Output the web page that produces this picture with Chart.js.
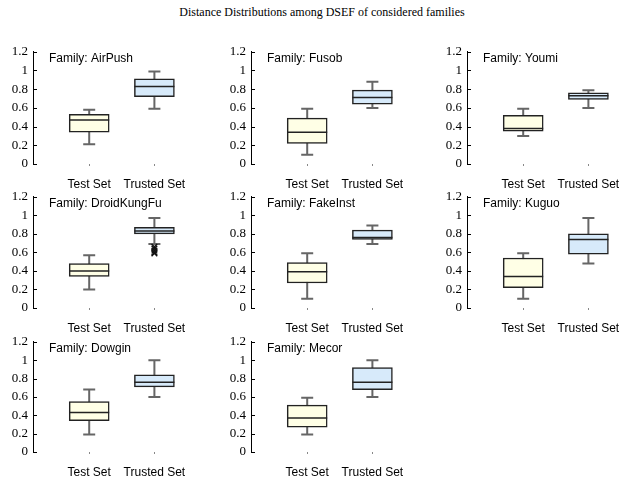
<!DOCTYPE html>
<html>
<head>
<meta charset="utf-8">
<script src="https://cdn.jsdelivr.net/npm/chart.js@4/dist/chart.umd.min.js"></script>
<style>
html,body{margin:0;padding:0;background:#fff;overflow:hidden;width:621px;height:481px;}
#title{position:absolute;left:0;top:4px;width:644px;text-align:center;font-family:"Liberation Serif","Times New Roman",serif;font-size:12px;line-height:16px;color:#000;}
canvas{position:absolute;}
</style>
</head>
<body>
<div id="title">Distance Distributions among DSEF of considered families</div>
<div id="wrap"></div>
<script>
// ---- data ----
const families = ['AirPush','Fusob','Youmi','DroidKungFu','FakeInst','Kuguo','Dowgin','Mecor'];
const categories = ['Test Set','Trusted Set'];
const yTickValues = [0,0.2,0.4,0.6,0.8,1,1.2];

const testLow  = [0.21,0.10,0.30,0.20,0.10,0.10,0.19,0.19];
const testQ1   = [0.34,0.22,0.35,0.34,0.27,0.22,0.34,0.27];
const testMed  = [0.47,0.34,0.38,0.40,0.39,0.34,0.43,0.37];
const testQ3   = [0.53,0.49,0.52,0.48,0.49,0.54,0.55,0.51];
const testHigh = [0.58,0.59,0.59,0.57,0.59,0.59,0.68,0.59];

const trustedLow  = [0.59,0.60,0.60,0.69,0.69,0.48,0.60,0.60];
const trustedQ1   = [0.72,0.64,0.69,0.80,0.74,0.58,0.71,0.68];
const trustedMed  = [0.83,0.71,0.73,0.83,0.76,0.74,0.76,0.76];
const trustedQ3   = [0.91,0.79,0.76,0.87,0.84,0.80,0.84,0.92];
const trustedHigh = [0.99,0.88,0.79,0.97,0.89,0.97,1.00,1.00];

// outliers of Trusted Set (DroidKungFu only)
const trustedOutliers = [[],[],[],[0.66,0.64,0.62,0.60,0.59],[],[],[],[]];

// ---- layout ----
const colAxisX = [33, 251, 467];
const rowTop = [48.5, 194, 339];
const rowBottom = [164, 308, 452];
const PAD_TOP = 10, X_AXIS_H = 30, Y_AXIS_W = 33;

const serif = '"Liberation Serif","Times New Roman",serif';
const sans = '"Liberation Sans",Arial,sans-serif';

const boxExtras = {
  id: 'boxExtras',
  beforeDatasetsDraw(chart, args, opts) {
    const ctx = chart.ctx, xs = chart.scales.x, ys = chart.scales.y;
    ctx.save();
    ctx.strokeStyle = '#666';
    ctx.lineWidth = 2;
    opts.stats.forEach((s, j) => {
      const x = xs.getPixelForValue(j + 1);
      const yl = ys.getPixelForValue(s.low), yh = ys.getPixelForValue(s.high);
      ctx.beginPath();
      ctx.moveTo(x, yl); ctx.lineTo(x, yh);
      ctx.moveTo(x - 6, yl); ctx.lineTo(x + 6, yl);
      ctx.moveTo(x - 6, yh); ctx.lineTo(x + 6, yh);
      ctx.stroke();
    });
    ctx.restore();
  },
  afterDatasetsDraw(chart, args, opts) {
    const ctx = chart.ctx, xs = chart.scales.x, ys = chart.scales.y;
    ctx.save();
    ctx.strokeStyle = '#222';
    ctx.lineWidth = 1.5;
    opts.stats.forEach((s, j) => {
      const x = xs.getPixelForValue(j + 1);
      const ym = ys.getPixelForValue(s.med);
      ctx.beginPath();
      ctx.moveTo(x - 20, ym); ctx.lineTo(x + 20, ym);
      ctx.stroke();
    });
    // inner y tick marks
    ctx.strokeStyle = '#000';
    ctx.lineWidth = 1;
    const left = chart.chartArea.left;
    ys.ticks.forEach(t => {
      const y = Math.round(ys.getPixelForValue(t.value)) + 0.5;
      ctx.beginPath();
      ctx.moveTo(left, y); ctx.lineTo(left + 4, y);
      ctx.stroke();
    });
    // family label
    ctx.fillStyle = '#000';
    ctx.font = '12px ' + sans;
    ctx.textBaseline = 'middle';
    ctx.textAlign = 'left';
    ctx.fillText('Family: ' + opts.family, left + 16, chart.chartArea.top + 7);
    ctx.restore();
  }
};

const wrap = document.getElementById('wrap');
families.forEach((fam, i) => {
  const col = i % 3, row = Math.floor(i / 3);
  const cv = document.createElement('canvas');
  const H = (rowBottom[row] - rowTop[row]) + PAD_TOP + X_AXIS_H;
  const W = 200;
  cv.width = W; cv.height = H;
  cv.style.width = W + 'px'; cv.style.height = H + 'px';
  cv.style.left = (colAxisX[col] - Y_AXIS_W) + 'px';
  cv.style.top = (rowTop[row] - PAD_TOP) + 'px';
  wrap.appendChild(cv);

  const stats = [
    {low: testLow[i], q1: testQ1[i], med: testMed[i], q3: testQ3[i], high: testHigh[i]},
    {low: trustedLow[i], q1: trustedQ1[i], med: trustedMed[i], q3: trustedQ3[i], high: trustedHigh[i]}
  ];

  const datasets = [{
    type: 'bar',
    data: stats.map((s, j) => ({x: j + 1, y: [s.q1, s.q3]})),
    backgroundColor: ['#ffffe6', '#d7eafa'],
    borderColor: '#222',
    borderWidth: 1.5,
    borderSkipped: false,
    barThickness: 40
  }];
  if (trustedOutliers[i].length) {
    datasets.push({
      type: 'scatter',
      data: trustedOutliers[i].map(v => ({x: 2, y: v})),
      pointStyle: 'crossRot',
      radius: 4,
      borderColor: '#111',
      borderWidth: 1.4,
      backgroundColor: '#111'
    });
  }

  new Chart(cv, {
    type: 'bar',
    data: {datasets},
    plugins: [boxExtras],
    options: {
      responsive: false,
      animation: false,
      devicePixelRatio: 1,
      layout: {padding: {top: PAD_TOP, right: 13, left: 0, bottom: 0}},
      plugins: {
        legend: {display: false},
        tooltip: {enabled: false},
        boxExtras: {stats, family: fam}
      },
      scales: {
        x: {
          type: 'linear',
          min: 0.138, max: 2.5,
          offset: false,
          afterBuildTicks: s => { s.ticks = [{value: 1}, {value: 2}]; },
          afterFit: s => { s.height = X_AXIS_H; },
          border: {display: false},
          grid: {display: true, drawOnChartArea: false, drawTicks: true, tickLength: 2, color: '#888', offset: false},
          ticks: {
            padding: 11,
            color: '#000',
            maxRotation: 0,
            autoSkip: false,
            font: {family: sans, size: 12},
            callback: v => categories[v - 1]
          }
        },
        y: {
          min: 0, max: 1.2,
          afterBuildTicks: s => { s.ticks = yTickValues.map(v => ({value: v})); },
          afterFit: s => { s.width = Y_AXIS_W; },
          border: {display: true, color: '#000', width: 1},
          grid: {display: true, drawOnChartArea: false, drawTicks: false},
          ticks: {
            padding: 5,
            color: '#000',
            autoSkip: false,
            font: {family: serif, size: 13},
            callback: v => String(parseFloat(v.toFixed(1)))
          }
        }
      }
    }
  });
});
</script>
</body>
</html>
